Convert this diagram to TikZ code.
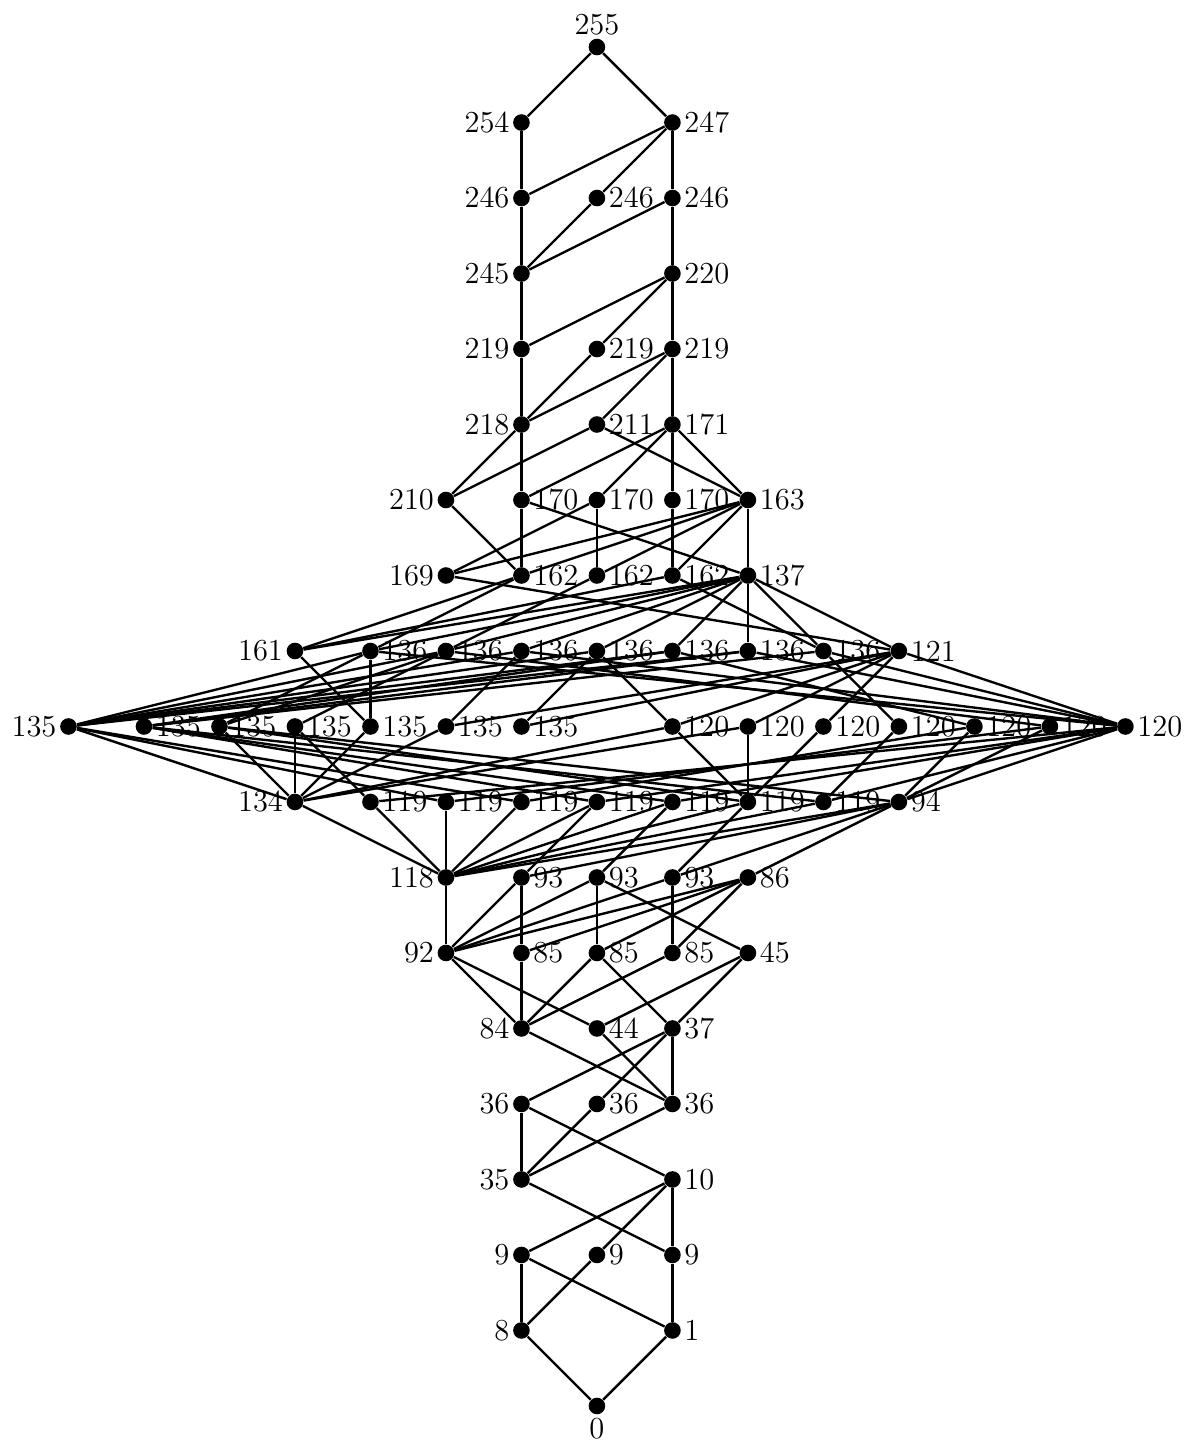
\documentclass[tikz,border=0pt]{standalone}
\usepackage{tikz}
\usetikzlibrary{positioning}
\begin{document}
\begin{tikzpicture}[
    elem/.style={circle, fill, inner sep=0pt, minimum size=0.22cm},
    lbl/.style={font=\fontsize{11.5}{13}\selectfont, inner sep=1pt},
    edge/.style={line width=0.9pt}
]
\useasboundingbox (-7.907,-0.464) rectangle (7.815,18.623);
\tikzset{every label/.style={lbl}}
% bottom half
\node[elem, label=below:0] (v0) at (0,0) {};
\node[elem, label=left:8] (v8) at (-1,1) {};
\node[elem, label=right:1] (v1) at (1,1) {};
\node[elem, label=left:9] (v9a) at (-1,2) {};
\node[elem, label=right:9] (v9b) at (0,2) {};
\node[elem, label=right:9] (v9c) at (1,2) {};
\node[elem, label=left:35] (v35) at (-1,3) {};
\node[elem, label=right:10] (v10) at (1,3) {};
\node[elem, label=left:36] (v36a) at (-1,4) {};
\node[elem, label=right:36] (v36b) at (0,4) {};
\node[elem, label=right:36] (v36c) at (1,4) {};
\node[elem, label=left:84] (v84) at (-1,5) {};
\node[elem, label=right:44] (v44) at (0,5) {};
\node[elem, label=right:37] (v37) at (1,5) {};
\node[elem, label=left:92] (v92) at (-2,6) {};
\node[elem, label=right:85] (v85a) at (-1,6) {};
\node[elem, label=right:85] (v85b) at (0,6) {};
\node[elem, label=right:85] (v85c) at (1,6) {};
\node[elem, label=right:45] (v45) at (2,6) {};
\node[elem, label=left:118] (v118) at (-2,7) {};
\node[elem, label=right:93] (v93a) at (-1,7) {};
\node[elem, label=right:93] (v93b) at (0,7) {};
\node[elem, label=right:93] (v93c) at (1,7) {};
\node[elem, label=right:86] (v86) at (2,7) {};
\node[elem, label=left:134] (v134) at (-4,8) {};
\foreach \n/\x in {a/-3, b/-2, c/-1, d/0, e/1, f/2, g/3}
    \node[elem, label=right:119] (v119\n) at (\x,8) {};
\node[elem, label=right:94] (v94) at (4,8) {};
% middle
\node[elem, label=left:135] (v135a) at (-7,9) {};
\foreach \n/\x in {b/-6, c/-5, d/-4, e/-3, f/-2, g/-1}
    \node[elem, label=right:135] (v135\n) at (\x,9) {};
\foreach \n/\x in {a/1, b/2, c/3, d/4, e/5, f/6, g/7}
    \node[elem, label=right:120] (v120\n) at (\x,9) {};
% top half
\node[elem, label=left:161] (v161) at (-4,10) {};
\foreach \n/\x in {a/-3, b/-2, c/-1, d/0, e/1, f/2, g/3}
    \node[elem, label=right:136] (v136\n) at (\x,10) {};
\node[elem, label=right:121] (v121) at (4,10) {};
\node[elem, label=left:169] (v169) at (-2,11) {};
\node[elem, label=right:162] (v162a) at (-1,11) {};
\node[elem, label=right:162] (v162b) at (0,11) {};
\node[elem, label=right:162] (v162c) at (1,11) {};
\node[elem, label=right:137] (v137) at (2,11) {};
\node[elem, label=left:210] (v210) at (-2,12) {};
\node[elem, label=right:170] (v170a) at (-1,12) {};
\node[elem, label=right:170] (v170b) at (0,12) {};
\node[elem, label=right:170] (v170c) at (1,12) {};
\node[elem, label=right:163] (v163) at (2,12) {};
\node[elem, label=left:218] (v218) at (-1,13) {};
\node[elem, label=right:211] (v211) at (0,13) {};
\node[elem, label=right:171] (v171) at (1,13) {};
\node[elem, label=left:219] (v219a) at (-1,14) {};
\node[elem, label=right:219] (v219b) at (0,14) {};
\node[elem, label=right:219] (v219c) at (1,14) {};
\node[elem, label=left:245] (v245) at (-1,15) {};
\node[elem, label=right:220] (v220) at (1,15) {};
\node[elem, label=left:246] (v246a) at (-1,16) {};
\node[elem, label=right:246] (v246b) at (0,16) {};
\node[elem, label=right:246] (v246c) at (1,16) {};
\node[elem, label=left:254] (v254) at (-1,17) {};
\node[elem, label=right:247] (v247) at (1,17) {};
\node[elem, label=above:255] (v255) at (0,18) {};

\draw[edge] (v0) -- (v8); \draw[edge] (v0) -- (v1);
\draw[edge] (v8) -- (v9a); \draw[edge] (v8) -- (v9b); \draw[edge] (v1) -- (v9a); \draw[edge] (v1) -- (v9c);
\draw[edge] (v9a) -- (v10); \draw[edge] (v9b) -- (v10); \draw[edge] (v9c) -- (v10); \draw[edge] (v9c) -- (v35);
\draw[edge] (v35) -- (v36a); \draw[edge] (v35) -- (v36b); \draw[edge] (v35) -- (v36c); \draw[edge] (v10) -- (v36a);
\draw[edge] (v36a) -- (v37); \draw[edge] (v36b) -- (v37); \draw[edge] (v36c) -- (v37);
\draw[edge] (v36c) -- (v84); \draw[edge] (v36c) -- (v44);
\draw[edge] (v84) -- (v92); \draw[edge] (v84) -- (v85a); \draw[edge] (v84) -- (v85b); \draw[edge] (v84) -- (v85c);
\draw[edge] (v44) -- (v92); \draw[edge] (v44) -- (v45); \draw[edge] (v37) -- (v85b); \draw[edge] (v37) -- (v45);
\draw[edge] (v92) -- (v118); \draw[edge] (v92) -- (v93a); \draw[edge] (v92) -- (v93b); \draw[edge] (v92) -- (v93c); \draw[edge] (v92) -- (v86);
\draw[edge] (v85a) -- (v93a); \draw[edge] (v85a) -- (v86); \draw[edge] (v85b) -- (v93b); \draw[edge] (v85b) -- (v86);
\draw[edge] (v85c) -- (v93c); \draw[edge] (v85c) -- (v86); \draw[edge] (v45) -- (v93b);
\foreach \t in {v134, v119a, v119b, v119c, v119d, v119e, v119f, v119g, v94}
    \draw[edge] (v118) -- (\t);
\draw[edge] (v93a) -- (v94); \draw[edge] (v93a) -- (v119d); \draw[edge] (v93b) -- (v119e);
\draw[edge] (v93c) -- (v119f); \draw[edge] (v93c) -- (v94); \draw[edge] (v86) -- (v94);
% level 8 to level 9
\foreach \t in {v135a, v135c, v135d, v135e, v135f, v120a, v120b}
    \draw[edge] (v134) -- (\t);
\draw[edge] (v119a) -- (v135d); \draw[edge] (v119a) -- (v120g); \draw[edge] (v119b) -- (v135a); \draw[edge] (v119b) -- (v120f);
\draw[edge] (v119c) -- (v135a); \draw[edge] (v119c) -- (v120e); \draw[edge] (v119d) -- (v135b); \draw[edge] (v119d) -- (v120g);
\draw[edge] (v119e) -- (v135b); \draw[edge] (v119e) -- (v120g); \draw[edge] (v119f) -- (v120a); \draw[edge] (v119f) -- (v120b);
\draw[edge] (v119f) -- (v120c); \draw[edge] (v119f) -- (v135c); \draw[edge] (v119g) -- (v135b); \draw[edge] (v119g) -- (v120d);
\draw[edge] (v119g) -- (v120g); \draw[edge] (v94) -- (v120g); \draw[edge] (v94) -- (v135c); \draw[edge] (v94) -- (v120e);
\draw[edge] (v94) -- (v120f);
% level 9 to level 10
\foreach \t in {v136a, v136b, v136c, v136d, v136e, v136f}
    \draw[edge] (v135a) -- (\t);
\draw[edge] (v161) -- (v135e);
\draw[edge] (v136a) -- (v135e); \draw[edge] (v136a) -- (v135c); \draw[edge] (v136a) -- (v120g);
\draw[edge] (v136b) -- (v135c); \draw[edge] (v136b) -- (v135d); \draw[edge] (v136b) -- (v120f);
\draw[edge] (v136c) -- (v135f); \draw[edge] (v136c) -- (v120g); \draw[edge] (v136d) -- (v135g); \draw[edge] (v136d) -- (v120a);
\draw[edge] (v136e) -- (v120e); \draw[edge] (v136e) -- (v135b); \draw[edge] (v136f) -- (v120g); \draw[edge] (v136f) -- (v135b);
\draw[edge] (v136g) -- (v120g); \draw[edge] (v136g) -- (v135b); \draw[edge] (v136g) -- (v120d);
\foreach \t in {v120a, v120b, v120c, v120g, v135f, v135g}
    \draw[edge] (v121) -- (\t);
% level 10 to level 11
\foreach \t in {v161, v136a, v136b, v136c, v136d, v136e, v136f, v136g, v121}
    \draw[edge] (v137) -- (\t);
\draw[edge] (v162a) -- (v161); \draw[edge] (v162a) -- (v136a); \draw[edge] (v162b) -- (v136b);
\draw[edge] (v162c) -- (v161); \draw[edge] (v162c) -- (v136g); \draw[edge] (v169) -- (v121);
% upper half
\draw[edge] (v210) -- (v162a); \draw[edge] (v170a) -- (v162a); \draw[edge] (v170a) -- (v137); \draw[edge] (v170b) -- (v169);
\draw[edge] (v170b) -- (v162b); \draw[edge] (v170c) -- (v162c); \draw[edge] (v163) -- (v137); \draw[edge] (v163) -- (v162c);
\draw[edge] (v163) -- (v162b); \draw[edge] (v163) -- (v162a); \draw[edge] (v163) -- (v169);
\draw[edge] (v218) -- (v210); \draw[edge] (v218) -- (v170a); \draw[edge] (v211) -- (v210); \draw[edge] (v211) -- (v163);
\draw[edge] (v171) -- (v170a); \draw[edge] (v171) -- (v170b); \draw[edge] (v171) -- (v170c); \draw[edge] (v171) -- (v163);
\draw[edge] (v219a) -- (v218); \draw[edge] (v219b) -- (v218); \draw[edge] (v219c) -- (v218); \draw[edge] (v219c) -- (v211); \draw[edge] (v219c) -- (v171);
\draw[edge] (v245) -- (v219a); \draw[edge] (v220) -- (v219a); \draw[edge] (v220) -- (v219b); \draw[edge] (v220) -- (v219c);
\draw[edge] (v246a) -- (v245); \draw[edge] (v246b) -- (v245); \draw[edge] (v246c) -- (v245); \draw[edge] (v246c) -- (v220);
\draw[edge] (v254) -- (v246a); \draw[edge] (v247) -- (v246a); \draw[edge] (v247) -- (v246b); \draw[edge] (v247) -- (v246c);
\draw[edge] (v255) -- (v254); \draw[edge] (v255) -- (v247);
\end{tikzpicture}
\end{document}
